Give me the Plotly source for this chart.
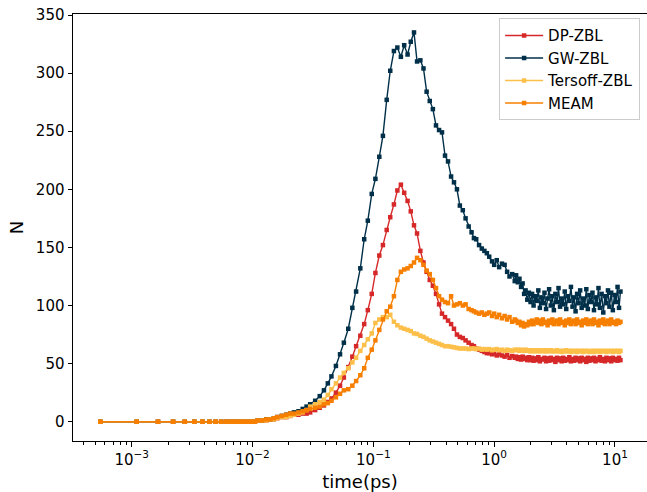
import plotly.graph_objects as go

# ---------------- data ----------------
t_early = [0.00055, 0.0011, 0.00165, 0.0022, 0.00275, 0.0033, 0.00385, 0.0044, 0.00495, 0.0055,
           0.00605, 0.0066, 0.00715, 0.0077, 0.00825, 0.0088, 0.00935, 0.0099, 0.01045, 0.011]
n_early = [0, 0, 0, 0, 0, 0, 0, 0, 0, 0,
           0, 0, 0, 0, 0, 0, 0, 0, 0, 1]

t_mid = [0.012, 0.013, 0.014, 0.015, 0.016, 0.0175, 0.019, 0.0205, 0.022, 0.024, 0.026, 0.028,
         0.030, 0.033, 0.036, 0.039, 0.042, 0.045, 0.049, 0.053, 0.057, 0.062,
         0.067, 0.072, 0.078, 0.084, 0.090, 0.097, 0.104, 0.112, 0.120, 0.129,
         0.138, 0.148, 0.158, 0.169, 0.180, 0.192, 0.204, 0.217, 0.230, 0.245,
         0.260, 0.276, 0.293, 0.311, 0.330, 0.350, 0.370, 0.392, 0.415, 0.440,
         0.465, 0.492, 0.520, 0.550, 0.580, 0.615, 0.650]

t_tail1 = [0.68, 0.71, 0.75, 0.79, 0.83, 0.87, 0.91, 0.96, 1.0, 1.05,
           1.1, 1.16, 1.22, 1.28, 1.34, 1.41, 1.48]

t_tail2 = [1.52, 1.57, 1.62, 1.67, 1.72, 1.77, 1.82, 1.88, 1.94, 2.0,
           2.06, 2.12, 2.18, 2.25, 2.32, 2.39, 2.46, 2.53, 2.61, 2.69,
           2.77, 2.85, 2.94, 3.03, 3.12, 3.21, 3.31, 3.41, 3.51, 3.62,
           3.73, 3.84, 3.95, 4.07, 4.19, 4.32, 4.45, 4.58, 4.72, 4.86,
           5.0, 5.15, 5.3, 5.46, 5.62, 5.79, 5.96, 6.14, 6.32, 6.51,
           6.7, 6.9, 7.1, 7.3, 7.5, 7.75, 8.0, 8.25, 8.5, 8.75,
           9.0, 9.3, 9.6, 9.9, 10.2, 10.5, 10.8, 11.1]

dp_mid = [1, 1, 2, 2, 3, 4, 4, 5, 6, 6, 7, 7,
          8, 10, 12, 14, 17, 20, 25, 31, 38, 47,
          56, 65, 74, 84, 96, 110, 128, 143, 152, 165,
          176, 187, 199, 204, 197, 190, 181, 169, 162, 147,
          137, 129, 122, 117, 110, 101, 93, 90, 87, 84,
          80, 75, 73, 72, 70, 68, 66]
dp_tail1 = [65, 63, 62, 61, 60, 59, 59, 58, 58.5, 57,
            58, 57, 56, 57.5, 55, 56.5, 55]
dp_tail2 = [56, 54, 55.5, 53.5, 56, 54, 55, 53, 55.5, 53,
            55, 52.5, 54.5, 53, 55.5, 52, 54, 53.5, 55, 52,
            54.5, 52.5, 55, 53, 54, 51.5, 55, 53, 54.5, 52,
            55, 52.5, 54, 53, 55.5, 52, 54, 52.5, 55, 53,
            54.5, 52, 55, 53, 54, 51.5, 55, 52.5, 54.5, 53,
            55, 52, 54, 53, 55.5, 52.5, 54, 52, 55, 53,
            54.5, 52, 55, 53, 54, 52.5, 55, 53]

gw_mid = [1, 2, 2, 3, 4, 5, 6, 7, 8, 9, 11, 13,
          15, 18, 22, 27, 33, 39, 48, 58, 68, 80,
          98, 112, 132, 157, 173, 196, 209, 228, 246, 277,
          302, 319, 322, 314, 324, 316, 327, 335, 310, 311,
          304, 284, 276, 269, 255, 251, 249, 229, 224, 211,
          206, 200, 186, 182, 175, 168, 163]
gw_tail1 = [158, 157, 152, 149, 147, 145, 142, 138, 135, 139,
            133, 136, 135, 129, 125, 127, 121]
gw_tail2 = [126, 120, 123, 116, 119, 110, 113, 105, 111, 103,
            110, 100, 108, 104, 113, 98, 107, 102, 111, 97,
            106, 114, 100, 108, 96, 110, 103, 115, 99, 106,
            101, 112, 97, 108, 104, 116, 99, 107, 95, 110,
            102, 113, 98, 106, 100, 114, 97, 109, 103, 111,
            96, 107, 101, 115, 98, 110, 94, 108, 102, 113,
            99, 111, 96, 109, 103, 116, 98, 112]

ters_mid = [1, 1, 2, 2, 3, 4, 4, 5, 6, 7, 8, 10,
            13, 15, 17, 19, 23, 28, 33, 38, 42, 46,
            51, 55, 61, 66, 71, 76, 85, 88, 90, 90,
            92, 86, 83, 81, 80, 79, 78, 76, 75.5, 74,
            73, 71.5, 70, 69, 68, 67, 66, 65, 65, 64.5,
            64, 63.5, 63, 63, 63, 62.5, 63]
ters_tail1 = [63, 62.5, 63, 62, 62.5, 62, 62.5, 61.5, 62, 62.5,
              61.5, 62, 61, 62, 61.5, 61, 62]
ters_tail2 = [61.5, 62, 61, 62, 61.5, 61, 62, 61, 61.5, 60.5,
              61.5, 61, 60.5, 61.5, 61, 60.5, 61.5, 61, 60.5, 61.5,
              60.5, 61, 61.5, 60.5, 61, 60.5, 61.5, 60.5, 61, 60,
              61, 60.5, 61.5, 60.5, 61, 60, 61, 60.5, 61, 60,
              61, 60.5, 61, 60, 61, 60.5, 61, 60, 60.5, 61,
              60, 61, 60.5, 61, 60, 61, 60.5, 61, 60, 61,
              60.5, 61, 60, 61, 60.5, 61, 60, 61]

meam_mid = [1, 2, 2, 3, 4, 5, 6, 7, 7, 8, 9, 10,
            11, 12, 13, 15, 16, 18, 21, 24, 27, 28,
            31, 35, 40, 46, 55, 62, 70, 79, 88, 95,
            99, 108, 122, 129, 131, 132, 134, 137, 141, 139,
            135, 130, 127, 122, 115, 108, 105, 103, 102, 108,
            100, 101, 102, 100, 101, 97, 96]
meam_tail1 = [95, 94, 93, 94, 92, 93, 94, 91, 93, 90,
              92, 89, 91, 88, 90, 86, 88]
meam_tail2 = [87, 85, 86, 83, 85, 82, 84, 83, 86, 84,
              87, 84, 86, 88, 85, 87, 84, 88, 85, 86,
              83, 87, 85, 88, 84, 86, 87, 84, 88, 85,
              86, 83, 87, 85, 88, 84, 86, 87, 84, 88,
              85, 86, 83, 87, 85, 88, 84, 86, 87, 84,
              88, 85, 86, 83, 87, 85, 88, 84, 86, 87,
              84, 88, 85, 86, 84, 87, 85, 86]

names = ["DP-ZBL", "GW-ZBL", "Tersoff-ZBL", "MEAM"]
colors = ["#D62828", "#003049", "#FCBF49", "#F77F00"]
series_vals = [
    (dp_mid, dp_tail1, dp_tail2),
    (gw_mid, gw_tail1, gw_tail2),
    (ters_mid, ters_tail1, ters_tail2),
    (meam_mid, meam_tail1, meam_tail2),
]

x_ticks = [1e-3, 1e-2, 1e-1, 1, 10]
x_ticktext = ["10<sup>\u22123</sup>", "10<sup>\u22122</sup>", "10<sup>\u22121</sup>",
              "10<sup>0</sup>", "10<sup>1</sup>"]
y_ticks = [0, 50, 100, 150, 200, 250, 300, 350]

# ---------------- figure ----------------
fig = go.Figure()
x_all = t_early + t_mid + t_tail1 + t_tail2
for name, color, (mid, tail1, tail2) in zip(names, colors, series_vals):
    y_all = n_early + mid + tail1 + tail2
    assert len(x_all) == len(y_all), (name, len(x_all), len(y_all))
    fig.add_trace(go.Scatter(
        x=x_all, y=y_all, mode="lines+markers", name=name,
        line=dict(color=color, width=1.4),
        marker=dict(symbol="square", size=4.5, color=color, line=dict(width=0)),
    ))

minor_vals = [m * 10.0 ** e for e in range(-4, 2) for m in range(2, 10)]

fig.update_layout(
    width=647, height=492,
    margin=dict(l=73, r=0, t=14, b=51),
    paper_bgcolor="white", plot_bgcolor="white",
    font=dict(family="DejaVu Sans", size=15, color="black"),
    showlegend=True,
    legend=dict(x=0.988, y=0.99, xanchor="right", yanchor="top",
                bgcolor="rgba(255,255,255,0.8)", bordercolor="#cccccc", borderwidth=1,
                itemwidth=38, font=dict(size=15)),
)
fig.update_xaxes(
    type="log", range=[-3.486, 1.265],
    tickmode="array", tickvals=x_ticks, ticktext=x_ticktext,
    ticks="outside", ticklen=4.5, tickwidth=1, tickcolor="black",
    showline=True, linecolor="black", linewidth=1, mirror=True,
    showgrid=False, zeroline=False,
    minor=dict(ticks="outside", ticklen=2.5, tickwidth=0.8, tickcolor="black",
               tickmode="array", tickvals=minor_vals, showgrid=False),
    title=dict(text="time(ps)", standoff=8),
)
fig.update_yaxes(
    range=[-16.6, 350.86],
    tickmode="array", tickvals=y_ticks,
    ticks="outside", ticklen=4.5, tickwidth=1, tickcolor="black",
    showline=True, linecolor="black", linewidth=1, mirror=False,
    showgrid=False, zeroline=False,
    title=dict(text="N", standoff=7),
)

fig.write_html("out.html")
